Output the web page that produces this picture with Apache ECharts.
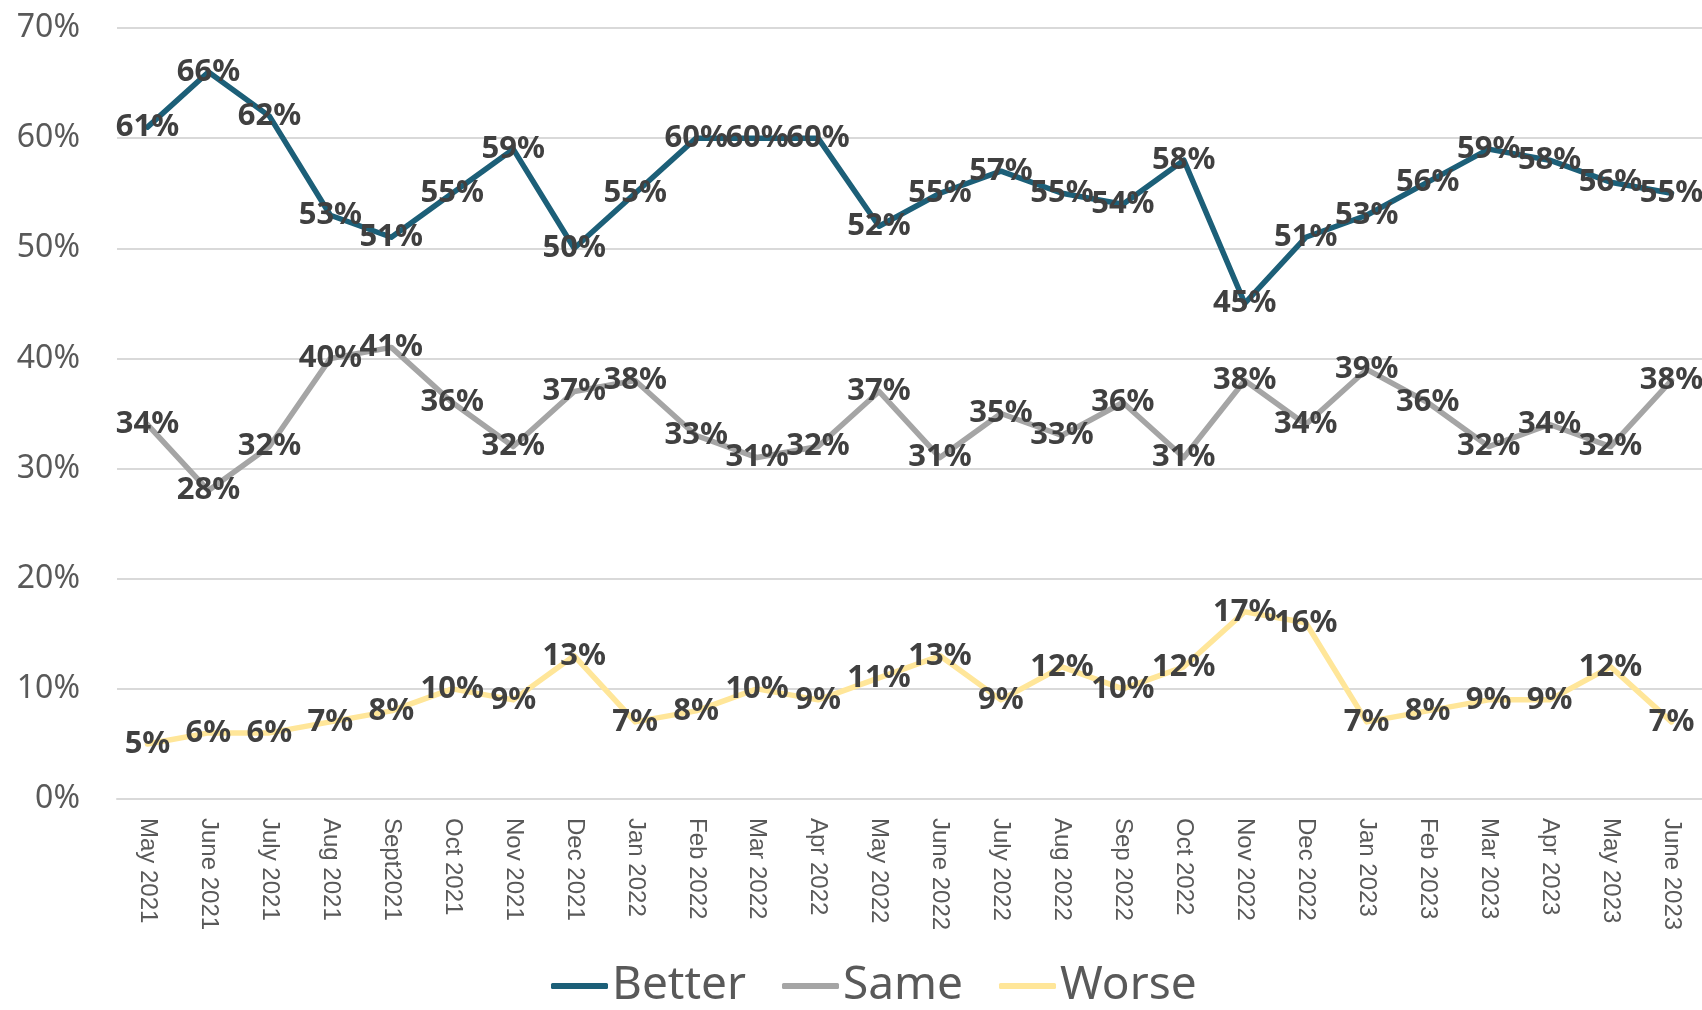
<!DOCTYPE html>
<html>
<head>
<meta charset="utf-8">
<script src="https://cdn.jsdelivr.net/npm/echarts@6/dist/echarts.min.js"></script>
<style>
  html, body { margin: 0; padding: 0; background: #fff; }
  #chart { width: 1702px; height: 1010px; }
</style>
</head>
<body>
<div id="chart"></div>
<script>
const months = ['May 2021', 'June 2021', 'July 2021', 'Aug 2021', 'Sept2021', 'Oct 2021', 'Nov 2021', 'Dec 2021',
  'Jan 2022', 'Feb 2022', 'Mar 2022', 'Apr 2022', 'May 2022', 'June 2022', 'July 2022', 'Aug 2022', 'Sep 2022',
  'Oct 2022', 'Nov 2022', 'Dec 2022', 'Jan 2023', 'Feb 2023', 'Mar 2023', 'Apr 2023', 'May 2023', 'June 2023']

const better = [61, 66, 62, 53, 51, 55, 59, 50, 55, 60, 60, 60, 52, 55, 57, 55, 54, 58, 45, 51, 53, 56, 59, 58, 56, 55]
const same = [34, 28, 32, 40, 41, 36, 32, 37, 38, 33, 31, 32, 37, 31, 35, 33, 36, 31, 38, 34, 39, 36, 32, 34, 32, 38]
const worse = [5, 6, 6, 7, 8, 10, 9, 13, 7, 8, 10, 9, 11, 13, 9, 12, 10, 12, 17, 16, 7, 8, 9, 9, 12, 7]

const colors = {Better: '#1c5f78', Same: '#a5a5a5', Worse: '#ffe699'}

// every series looks the same apart from colour, labels sit centred on the point
const makeSeries = (name, data) => ({
  name,
  type: 'line',
  data,
  symbol: 'circle',
  symbolSize: 1,
  showSymbol: true,
  lineStyle: {width: 5.5, color: colors[name], cap: 'round', join: 'round'},
  itemStyle: {color: colors[name]},
  label: {
    show: true,
    position: 'inside',
    formatter: '{c}%',
    color: '#404040',
    fontFamily: 'Noto Sans',
    fontWeight: 'bold',
    fontSize: 31,
    textBorderWidth: 0
  },
  emphasis: {disabled: true}
})

const chart = echarts.init(document.getElementById('chart'), null, {renderer: 'canvas'})

chart.setOption({
  animation: false,
  color: [colors.Better, colors.Same, colors.Worse],
  grid: {left: 117, right: 0, top: 28, bottom: 211, containLabel: false},
  legend: {
    data: ['Better', 'Same', 'Worse'],
    left: 546,
    top: 958,
    icon: 'roundRect',
    itemWidth: 57,
    itemHeight: 6,
    itemGap: 36,
    textStyle: {fontFamily: 'Noto Sans', fontSize: 46, color: '#595959', padding: [0, 0, 0, -1]}
  },
  xAxis: {
    type: 'category',
    data: months,
    boundaryGap: true,
    axisLine: {lineStyle: {color: '#d9d9d9', width: 2}},
    axisTick: {show: false},
    axisLabel: {
      rotate: -90,
      margin: 19,
      interval: 0,
      color: '#595959',
      fontFamily: 'Liberation Sans',
      fontSize: 24
    }
  },
  yAxis: {
    type: 'value',
    min: 0,
    max: 70,
    interval: 10,
    axisLine: {show: false},
    axisTick: {show: false},
    splitLine: {lineStyle: {color: '#d9d9d9', width: 2}},
    axisLabel: {
      formatter: '{value}%',
      margin: 37,
      color: '#595959',
      fontFamily: 'Noto Sans',
      fontSize: 32
    }
  },
  series: [
    makeSeries('Better', better),
    makeSeries('Same', same),
    makeSeries('Worse', worse)
  ]
})
</script>
</body>
</html>
